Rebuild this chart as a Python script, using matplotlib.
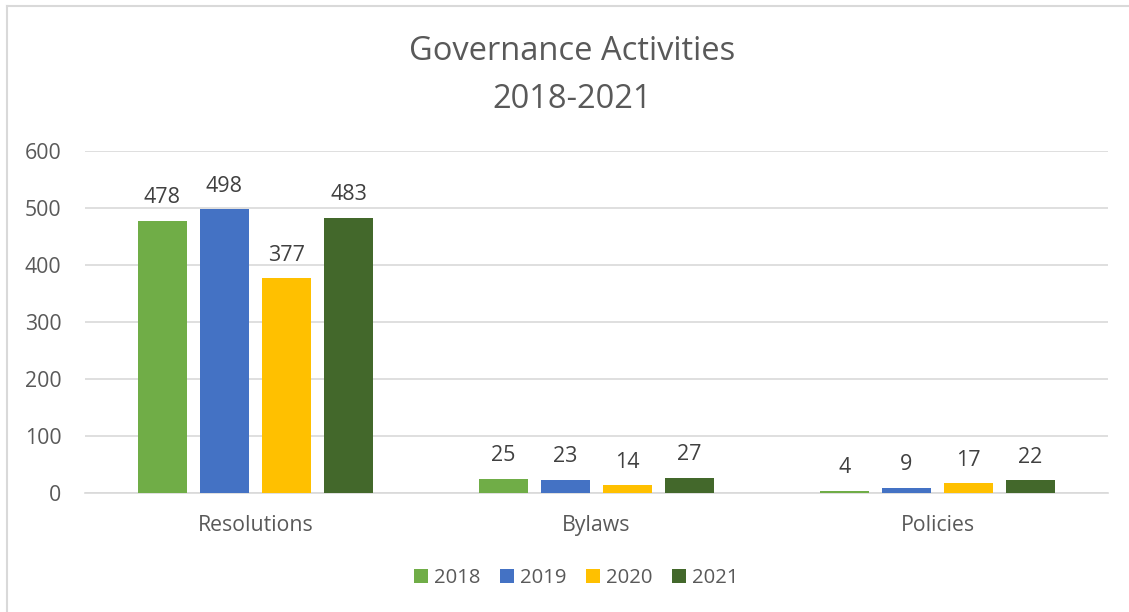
import matplotlib.pyplot as plt
import numpy as np

# Data
categories = ['Resolutions', 'Bylaws', 'Policies']
years = ['2018', '2019', '2020', '2021']
v2018 = [478, 25, 4]
v2019 = [498, 23, 9]
v2020 = [377, 14, 17]
v2021 = [483, 27, 22]
series = [v2018, v2019, v2020, v2021]
colors = ['#70AD47', '#4472C4', '#FFC000', '#43682B']

plt.rcParams['font.family'] = ['Open Sans', 'DejaVu Sans']
grey = '#595959'

fig = plt.figure(figsize=(11.29, 6.12), dpi=100)
ax = fig.add_axes([0.0753, 0.1944, 0.9061, 0.5589])

x = np.arange(len(categories))
width = 0.1437
step = 0.182
for i, (vals, year) in enumerate(zip(series, years)):
    bars = ax.bar(x + (i - 1.5) * step, vals, width, color=colors[i], label=year, zorder=3)
    ax.bar_label(bars, padding=9, fontsize=15.5, color='#404040')

ax.set_xlim(-0.5, 2.5)
ax.set_ylim(0, 600)
ax.set_yticks(range(0, 601, 100))
ax.set_xticks(x)
ax.set_xticklabels(categories)
ax.tick_params(axis='both', length=0, labelsize=15.3, labelcolor=grey)
ax.tick_params(axis='x', pad=16)
ax.tick_params(axis='y', pad=17)
ax.grid(axis='y', color='#D9D9D9', linewidth=1.2, zorder=0)
for s in ['top', 'right', 'left']:
    ax.spines[s].set_visible(False)
ax.spines['bottom'].set_color('#D9D9D9')
ax.spines['bottom'].set_linewidth(1.2)

fig.text(0.507, 1 - 52 / 612, 'Governance Activities', ha='center', va='center', fontsize=23.5, color=grey)
fig.text(0.507, 1 - 99 / 612, '2018-2021', ha='center', va='center', fontsize=23.5, color=grey)

fig.legend(loc='center', bbox_to_anchor=(576 / 1129, 1 - 578 / 612), ncol=4, frameon=False,
           fontsize=14.6, labelcolor=grey, handlelength=0.7, handleheight=0.7,
           handletextpad=0.3, columnspacing=0.95)

# thin border along top and left edges
fig.add_artist(plt.Line2D([7 / 1129, 1], [1 - 6 / 612, 1 - 6 / 612], color='#D9D9D9', linewidth=1.5))
fig.add_artist(plt.Line2D([7 / 1129, 7 / 1129], [0, 1 - 6 / 612], color='#D9D9D9', linewidth=1.5))

fig.savefig('out.png', dpi=100)
